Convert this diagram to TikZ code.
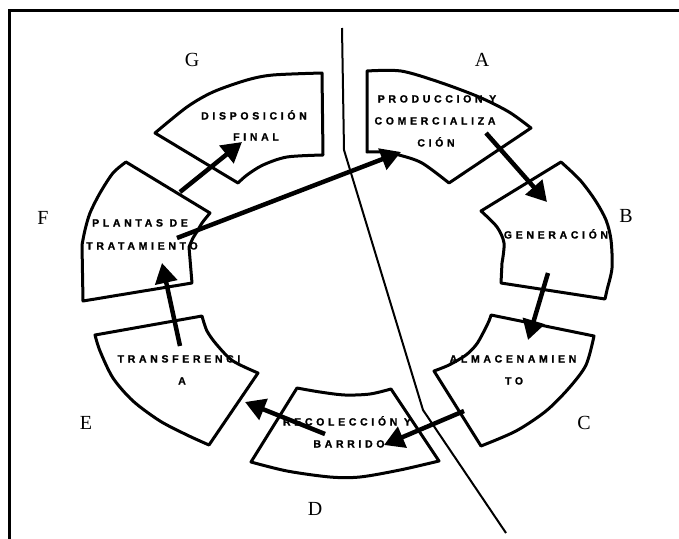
\documentclass[tikz,border=0pt]{standalone}
\usepackage{fontspec}
\setmainfont{Liberation Serif}
\newfontfamily\boxfont[LetterSpace=35,FakeBold=1.2]{Liberation Sans Bold}
\usetikzlibrary{arrows.meta}
\tikzset{
  sectorbox/.style={line width=3pt, line join=round},
  arr/.style={line width=4.5pt, -{Triangle[length=20pt,width=22pt]}},
  boxtxt/.style={inner sep=0pt, font=\boxfont\fontsize{10.5}{12}\selectfont, text height=7pt, text depth=0pt},
  biglbl/.style={inner sep=0pt, font=\fontsize{20}{24}\selectfont, text height=13.2pt, text depth=0pt},
  divider/.style={line width=2pt},
  frameline/.style={line width=3pt}
}
\begin{document}
\begin{tikzpicture}[x=1pt,y=-1pt]
\useasboundingbox (0,0) rectangle (679,538);
% frame (top and left only)
\draw[frameline] (9.5,545) -- (9.5,10) -- (690,10);

% G: Disposicion final
\draw[sectorbox] plot[smooth] coordinates {(155,133) (187,107) (213,92) (247,80) (273,75) (322,73)}
  -- (323,155) -- plot[smooth] coordinates {(323,155) (287,157) (263,165) (247,175) (238,183)} -- cycle;
% F: Plantas de tratamiento
\draw[sectorbox] plot[smooth] coordinates {(126,162) (113,173) (100,193) (90,213) (85,230) (82,245)}
  -- (83,301) -- (192,283) -- (189,247)
  -- plot[smooth] coordinates {(189,247) (193,238) (198,230) (202,223) (210,213)} -- cycle;
% E: Transferencia
\draw[sectorbox] (95,335) -- (202,316)
  -- plot[smooth] coordinates {(202,316) (207,331) (217,345) (233,361) (258,373)}
  -- (209,445)
  -- plot[smooth] coordinates {(209,445) (187,435) (160,421) (133,401) (113,378) (100,351) (95,335)} -- cycle;
% D: Recoleccion y barrido
\draw[sectorbox] plot[smooth] coordinates {(297,388) (320,392) (345,395) (370,394) (391,389)}
  -- (439,461)
  -- plot[smooth] coordinates {(439,461) (400,470) (360,477) (330,477) (287,471) (251,462)} -- cycle;
% C: Almacenamiento
\draw[sectorbox] (491,315) -- (594,336)
  -- plot[smooth] coordinates {(594,336) (586,365) (569,388) (546,411) (516,431) (481,446)}
  -- (434,371)
  -- plot[smooth] coordinates {(434,371) (449,365) (466,355) (476,345) (482,335) (489,321) (491,315)} -- cycle;
% B: Generacion
\draw[sectorbox] (481,211) -- (561,162)
  -- plot[smooth] coordinates {(561,162) (580,180) (595,200) (606,220) (611,240) (612,268) (607,290) (605,299)}
  -- (501,283) -- (502,263)
  -- plot[smooth] coordinates {(502,263) (504,243) (497,227) (481,211)} -- cycle;
% A: Produccion y comercializacion
\draw[sectorbox] plot[smooth] coordinates {(367,71) (401,71) (439,82) (479,97) (509,112) (531,128)}
  -- (449,183)
  -- plot[smooth] coordinates {(449,183) (422,163) (399,155) (382,152) (367,152)} -- cycle;

% divider line
\draw[divider] (342,28) -- (344,150) -- (423,410) -- (506,533);

% texts in sectors
\node[boxtxt] (g1) at (254,116) {DISPOSICIÓN};
\node[boxtxt] (g2) at (256,137) {FINAL};
\node[boxtxt] (f1) at (140,223) {PLANTAS DE};
\node[boxtxt] (f2) at (142,246) {TRATAMIENTO};
\node[boxtxt] (a1) at (437,99) {PRODUCCION Y};
\node[boxtxt] (a2) at (435,121) {COMERCIALIZA};
\node[boxtxt] (a3) at (436,143) {CIÓN};
\node[boxtxt] (b1) at (556,235) {GENERACIÓN};
\node[boxtxt] (c1) at (513,359) {ALMACENAMIEN};
\node[boxtxt] (c2) at (514,381) {TO};
\node[boxtxt] (e1) at (179,359) {TRANSFERENCI};
\node[boxtxt] (e2) at (182,381) {A};
\node[boxtxt] (d1) at (347,422) {RECOLECCIÓN Y};
\node[boxtxt] (d2) at (349,444) {BARRIDO};

% letter labels
\node[biglbl] (lG) at (192,60) {G};
\node[biglbl] (lA) at (482,60) {A};
\node[biglbl] (lB) at (626,216) {B};
\node[biglbl] (lC) at (584,423) {C};
\node[biglbl] (lD) at (315,509) {D};
\node[biglbl] (lE) at (86,423) {E};
\node[biglbl] (lF) at (43,218) {F};

% arrow end points
\coordinate (fg0) at (180,192); \coordinate (fg1) at (242,142);
\coordinate (fa0) at (177,238); \coordinate (fa1) at (401,152);
\coordinate (ab0) at (486,133); \coordinate (ab1) at (547,202);
\coordinate (bc0) at (548,273); \coordinate (bc1) at (528,340);
\coordinate (cd0) at (464,411); \coordinate (cd1) at (384,445);
\coordinate (de0) at (325,434); \coordinate (de1) at (245,402);
\coordinate (ef0) at (180,346); \coordinate (ef1) at (162,263);

\draw[arr] (fg0) -- (fg1);
\draw[arr] (fa0) -- (fa1);
\draw[arr] (ab0) -- (ab1);
\draw[arr] (bc0) -- (bc1);
\draw[arr] (cd0) -- (cd1);
\draw[arr] (de0) -- (de1);
\draw[arr] (ef0) -- (ef1);
\end{tikzpicture}
\end{document}
